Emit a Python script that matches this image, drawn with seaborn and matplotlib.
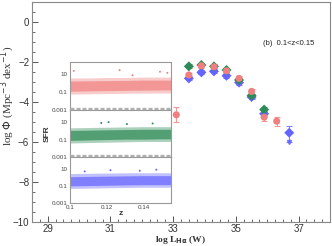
import numpy as np
import pandas as pd
import matplotlib
matplotlib.use("Agg")
import matplotlib.pyplot as plt
from matplotlib.ticker import MultipleLocator, FixedLocator, NullLocator
import seaborn as sns

sns.set_theme(style="white")
plt.rcParams['font.family'] = ['Liberation Sans', 'DejaVu Sans']

# ---------------- main LF data ----------------
x_green = [33.5, 33.9, 34.3, 34.7, 35.1, 35.5, 35.9]
y_green = [-2.22, -2.15, -2.22, -2.40, -2.90, -3.68, -4.38]
e_green = [0.10, 0.10, 0.10, 0.10, 0.10, 0.10, 0.12]

x_salmon = [33.1, 33.5, 33.9, 34.3, 34.7, 35.1, 35.5, 35.9, 36.3]
y_salmon = [-4.64, -2.65, -2.19, -2.24, -2.44, -2.82, -3.47, -4.76, -4.96]
e_salmon = [0.38, 0.10, 0.10, 0.10, 0.10, 0.10, 0.14, 0.18, 0.22]

x_blue = [33.5, 33.9, 34.3, 34.7, 35.1, 35.5, 35.9, 36.7]
y_blue = [-2.82, -2.52, -2.47, -2.69, -3.03, -3.75, -4.59, -5.54]
e_blue_up = [0.10, 0.10, 0.10, 0.10, 0.10, 0.10, 0.12, 0.32]
e_blue_dn = [0.10, 0.10, 0.10, 0.10, 0.10, 0.10, 0.12, 0.45]

x_ticks = [29, 31, 33, 35, 37]
x_ticklabels = ['29', '31', '33', '35', '37']
y_ticks = [-10, -8, -6, -4, -2, 0]
y_ticklabels = ['\u221210', '\u22128', '\u22126', '\u22124', '\u22122', '0']

c_green = '#2e8b57'
c_salmon = '#f08080'
c_blue = '#6464ff'

df = pd.concat([
    pd.DataFrame({'logL': x_blue, 'logphi': y_blue, 'sample': 'blue'}),
    pd.DataFrame({'logL': x_green, 'logphi': y_green, 'sample': 'green'}),
    pd.DataFrame({'logL': x_salmon, 'logphi': y_salmon, 'sample': 'salmon'}),
], ignore_index=True)

# ---------------- inset SFR-z envelopes ----------------
z_env = [0.100, 0.110, 0.120, 0.130, 0.140, 0.150, 0.155]
sal_lo = [0.06, 0.065, 0.07, 0.075, 0.08, 0.08, 0.08]
sal_hi = [4.0, 4.0, 4.5, 4.5, 5.0, 5.0, 5.0]
sal_clo = [0.13, 0.14, 0.15, 0.16, 0.17, 0.18, 0.18]
sal_chi = [1.8, 1.9, 2.0, 2.1, 2.3, 2.3, 2.3]
grn_lo = [0.04, 0.045, 0.05, 0.055, 0.06, 0.06, 0.06]
grn_hi = [2.2, 2.4, 2.6, 2.8, 3.0, 3.0, 3.0]
grn_clo = [0.08, 0.09, 0.10, 0.11, 0.11, 0.12, 0.12]
grn_chi = [1.1, 1.2, 1.3, 1.4, 1.5, 1.5, 1.5]
blu_lo = [0.05, 0.055, 0.06, 0.065, 0.07, 0.07, 0.07]
blu_hi = [2.8, 3.0, 3.2, 3.4, 3.5, 3.5, 3.5]
blu_clo = [0.10, 0.11, 0.12, 0.13, 0.14, 0.14, 0.14]
blu_chi = [1.2, 1.3, 1.4, 1.5, 1.6, 1.6, 1.6]

sal_out_z = [0.102, 0.127, 0.134, 0.149, 0.153]
sal_out_s = [25, 30, 8, 20, 15]
grn_out_z = [0.117, 0.121, 0.131, 0.145]
grn_out_s = [8, 10, 6, 7]
blu_out_z = [0.108, 0.122, 0.138, 0.147]
blu_out_s = [5, 7, 6, 8]

inset_ticks = [0.001, 0.1, 10]
inset_ticklabels = ['0.001', '0.1', '10']
z_ticks = [0.1, 0.12, 0.14]
z_ticklabels = ['0.1', '0.12', '0.14']

# ---------------- figure ----------------
fig = plt.figure(figsize=(3.32, 2.46), dpi=100)
ax = fig.add_axes([0.0964, 0.0976, 0.8976, 0.8944])

axis_col = '#888888'
for s in ax.spines.values():
    s.set_color(axis_col)
    s.set_linewidth(0.8)

for xs, ys, lo, hi, col in [
    (x_blue, y_blue, e_blue_dn, e_blue_up, c_blue),
    (x_green, y_green, e_green, e_green, c_green),
    (x_salmon, y_salmon, e_salmon, e_salmon, c_salmon),
]:
    ax.errorbar(xs, ys, yerr=[lo, hi], fmt='none', ecolor=col, elinewidth=0.8,
                capsize=2.0, capthick=0.8, alpha=0.8, zorder=2)

# upper-limit arrow for the last blue point
ax.plot([x_blue[-1]], [y_blue[-1] - e_blue_dn[-1]], marker='v', color=c_blue,
        markersize=3, alpha=0.8, zorder=2)

sns.scatterplot(data=df, x='logL', y='logphi', hue='sample', style='sample',
                palette={'blue': c_blue, 'green': c_green, 'salmon': c_salmon},
                markers={'blue': 'D', 'green': 'D', 'salmon': 'o'},
                s=26, edgecolor='none', legend=False, ax=ax, zorder=3)

ax.set_xlim(28.5, 38)
ax.set_ylim(-10, 1)
ax.xaxis.set_major_locator(FixedLocator(x_ticks))
ax.xaxis.set_minor_locator(MultipleLocator(0.25))
ax.yaxis.set_major_locator(FixedLocator(y_ticks))
ax.yaxis.set_minor_locator(MultipleLocator(0.5))
ax.set_xticklabels(x_ticklabels)
ax.set_yticklabels(y_ticklabels)
ax.tick_params(axis='both', which='major', direction='in', length=4, width=0.7,
               color='#555555', labelsize=7, labelcolor='#333333', pad=2)
ax.tick_params(axis='x', which='major', pad=1.2)
ax.tick_params(axis='both', which='minor', direction='in', length=2, width=0.6,
               color='#555555')
ax.tick_params(bottom=True, left=True, top=False, right=False)
ax.tick_params(axis='both', which='minor', bottom=True, left=True)

ax.set_xlabel(r'log L$_{\mathbf{H\alpha}}$ (W)', family='Liberation Serif',
              fontsize=6.8, fontweight='bold', color='#333333', va='center')
ax.xaxis.set_label_coords(0.5, -0.084)
ax.set_ylabel(r'log $\Phi$ (Mpc$^{-3}$ dex$^{-1}$)', family='Liberation Serif',
              fontsize=8, color='#333333', va='center')
ax.yaxis.set_label_coords(-0.08, 0.575)
ax.text(0.775, 0.812, '(b)  0.1<z<0.15', transform=ax.transAxes, fontsize=5.5,
        color='#222222', va='center')

# ---------------- inset ----------------
panel_specs = [
    (0.553, 0.195, c_salmon, sal_lo, sal_hi, sal_clo, sal_chi, sal_out_z, sal_out_s),
    (0.362, 0.191, c_green, grn_lo, grn_hi, grn_clo, grn_chi, grn_out_z, grn_out_s),
    (0.175, 0.187, c_blue, blu_lo, blu_hi, blu_clo, blu_chi, blu_out_z, blu_out_s),
]
for i, (b, h, col, lo, hi, clo, chi, oz, os_) in enumerate(panel_specs):
    ia = fig.add_axes([0.211, b, 0.304, h])
    ia.set_facecolor('white')
    ia.fill_between(z_env, lo, hi, color=col, alpha=0.4, linewidth=0)
    ia.fill_between(z_env, clo, chi, color=col, alpha=0.7, linewidth=0)
    sns.scatterplot(x=oz, y=os_, color=col, s=2, edgecolor='none', ax=ia,
                    legend=False)
    ia.set_yscale('log')
    ia.set_ylim(0.001, 250)
    ia.set_xlim(0.1, 0.155)
    ia.yaxis.set_major_locator(FixedLocator(inset_ticks))
    ia.yaxis.set_minor_locator(NullLocator())
    ia.set_yticklabels(inset_ticklabels)
    ia.xaxis.set_major_locator(FixedLocator(z_ticks))
    ia.tick_params(axis='both', direction='in', length=2, width=0.5,
                   labelsize=4.5, labelcolor='#444444', pad=1.5, color='#666666')
    for s in ia.spines.values():
        s.set_color('#999999')
        s.set_linewidth(0.8)
    ia.set_xlabel('')
    ia.set_ylabel('')
    if i < 2:
        ia.set_xticklabels([])
        ia.axhline(0.0013, color='#b0b0b0', lw=2.4, ls=(0, (1.2, 0.6)), zorder=5)
    else:
        ia.set_xticklabels(z_ticklabels)
        ia.set_xlabel('z', fontsize=6, fontweight='bold', color='#333333',
                      labelpad=0)
    if i == 1:
        ia.set_ylabel('SFR', fontsize=6, fontweight='bold', color='#333333',
                      labelpad=1)

fig.savefig('out.png', dpi=100)
